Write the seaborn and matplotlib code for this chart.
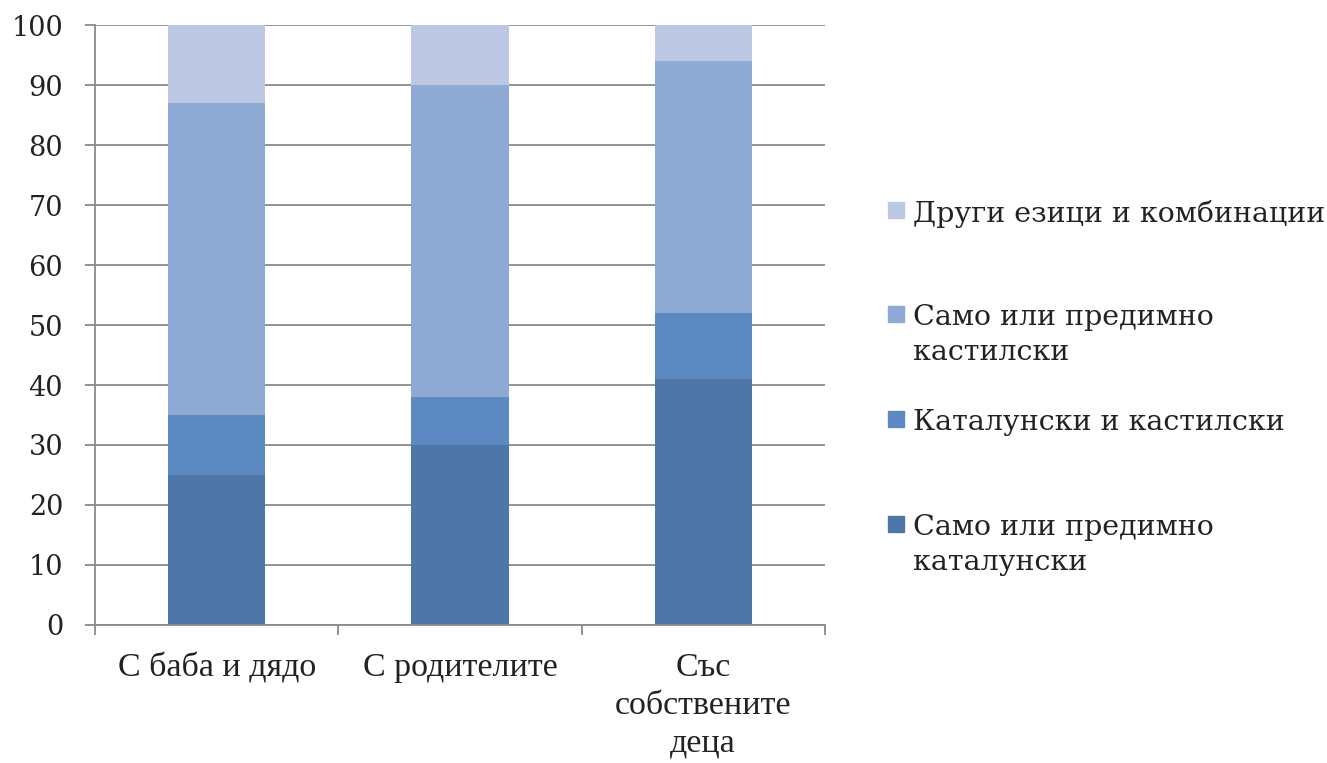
import matplotlib
matplotlib.use("Agg")
import matplotlib.pyplot as plt
import seaborn as sns
import numpy as np
from matplotlib.patches import Rectangle

categories = ["С баба и дядо", "С родителите", "Със\nсобствените\nдеца"]
series_names = ["Само или предимно\nкаталунски", "Каталунски и кастилски",
                "Само или предимно\nкастилски", "Други езици и комбинации"]
catalan = [25, 30, 41]
both = [10, 8, 11]
castilian = [52, 52, 42]
other = [13, 10, 6]
colors = ["#4E76A6", "#5D89C2", "#8EA9D4", "#BDC9E4"]

sns.set_theme(style="white")
plt.rcParams["font.family"] = ["DejaVu Serif"]

fig = plt.figure(figsize=(13.27, 7.63), dpi=100)
ax = fig.add_axes([0.0716, 0.181, 0.550, 0.786])

bottom = np.zeros(len(categories))
for vals, col in zip([catalan, both, castilian, other], colors):
    sns.barplot(x=categories, y=vals, bottom=bottom, color=col, width=0.4,
                saturation=1, ax=ax, linewidth=0)
    bottom = bottom + np.array(vals)

ax.set_ylim(0, 100)
ax.set_xlim(-0.5, 2.5)
ax.set_yticks(range(0, 101, 10))
ax.yaxis.grid(True, color="#8a8a8a", linewidth=1.3)
ax.set_axisbelow(True)
for s in ["top", "right"]:
    ax.spines[s].set_visible(False)
for s in ["left", "bottom"]:
    ax.spines[s].set_color("#8a8a8a")
    ax.spines[s].set_linewidth(1.3)

ax.tick_params(axis="y", labelsize=19.5, colors="#8a8a8a", labelcolor="#222222",
               left=True, length=7, width=1.3, pad=16)
ax.set_xticks(range(len(categories)))
ax.set_xticklabels(categories, fontsize=24.5, color="#222222", linespacing=1.3,
                   family=["Liberation Serif"])
ax.tick_params(axis="x", length=0, pad=20)
ax.set_xticks([-0.5, 0.5, 1.5, 2.5], minor=True)
ax.tick_params(axis="x", which="minor", bottom=True, length=7, width=1.3, color="#8a8a8a")
ax.set_xlabel("")
ax.set_ylabel("")

# legend entries (top to bottom): cap-top y of first line, in pixels from top
legend_top = [202, 306, 411, 516]
W, H = 1327, 763
sq = 16
for name, col, ypx in zip(series_names[::-1], colors[::-1], legend_top):
    fig.patches.append(Rectangle((888 / W, 1 - (ypx + sq) / H), sq / W, sq / H,
                                 transform=fig.transFigure, color=col, figure=fig))
    fig.text(913 / W, 1 - (ypx - 2) / H, name, fontsize=20.5, color="#222222",
             va="top", ha="left", linespacing=1.38)

fig.savefig("out.png", dpi=100)
